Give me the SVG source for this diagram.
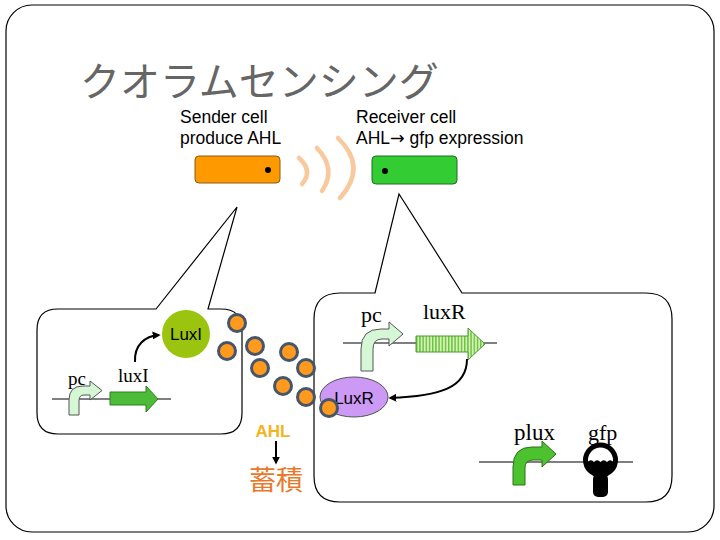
<svg xmlns="http://www.w3.org/2000/svg" width="720" height="540" viewBox="0 0 720 540">
<defs>
<style>
.sans{font-family:"Liberation Sans",Arial,sans-serif;fill:#000}
.serif{font-family:"Liberation Serif","Times New Roman",serif;fill:#000}
.callout{fill:#fff;stroke:#000;stroke-width:1.2}
.gline{stroke:#000;stroke-width:1.2}
.ahl{fill:#FF9A1E;stroke:#46566A;stroke-width:3}
.wave{fill:none;stroke:#F8C99C;stroke-width:4.5;stroke-linecap:round}
.conn{fill:none;stroke:#000;stroke-width:2}
.pale{fill:#D6F7D6;stroke:#555;stroke-width:1}
</style>
<marker id="ah" viewBox="0 0 10 10" refX="8" refY="5" markerWidth="4" markerHeight="4" orient="auto">
<path d="M0,0 L10,5 L0,10 Z" fill="#000"/>
</marker>
<pattern id="stripes" width="3.2" height="10" patternUnits="userSpaceOnUse">
<rect width="3.2" height="10" fill="#D2F2B0"/>
<rect width="1.4" height="10" fill="#6CBF45"/>
</pattern>
</defs>
<rect width="720" height="540" fill="#fff"/>
<rect id="frame" x="6" y="5" width="708" height="527" rx="26" ry="26" fill="#fff" stroke="#000" stroke-width="1.2"/>
<text id="title" x="80" y="96" font-family="'Noto Sans CJK JP','Noto Sans CJK SC',sans-serif" font-size="40" fill="#666">クオラムセンシング</text>

<g id="sender">
<text class="sans" x="180" y="123" font-size="17.5">Sender cell</text>
<text class="sans" x="180" y="144" font-size="17.5">produce AHL</text>
<rect x="195" y="156" width="85" height="27" rx="4" fill="#FF9900" stroke="#8A5A10" stroke-width="1"/>
<circle cx="268" cy="170" r="3" fill="#000"/>
</g>
<g id="receiver">
<text class="sans" x="356" y="123" font-size="17.5">Receiver cell</text>
<text class="sans" x="356" y="144" font-size="17.5">AHL<tspan font-family="'DejaVu Sans',sans-serif">→</tspan> gfp expression</text>
<rect x="372" y="156" width="85" height="28" rx="4" fill="#33CC33" stroke="#1F6E1F" stroke-width="1"/>
<circle cx="385" cy="171" r="3" fill="#000"/>
</g>
<g id="signal">
<path class="wave" d="M299,158 Q313.5,171 302,184"/>
<path class="wave" d="M317,148 Q337,169 322,191"/>
<path class="wave" d="M338,138 Q368,167 340,198"/>
</g>

<g id="sender-detail">
<path class="callout" d="M156,309 L237,207 L208,309 L221,309 Q242,309 242,330 L242,413 Q242,434 221,434 L58,434 Q37,434 37,413 L37,330 Q37,309 58,309 Z"/>
<line class="gline" x1="52" y1="399" x2="171" y2="399"/>
<path class="pale" d="M69,415 L69,400 Q69,386 83,386 L90,386 L90,381 L102,390.5 L90,400 L90,395 L84,395 Q79,395 79,401 L79,415 Z"/>
<text class="serif" x="68" y="385" font-size="19">pc</text>
<path d="M110,392 L146,392 L146,386 L158,399 L146,412 L146,405 L110,405 Z" fill="#4CBB38" stroke="#2E7A22" stroke-width="1"/>
<text class="serif" x="118" y="382" font-size="19">luxI</text>
</g>
<g id="LuxI">
<circle cx="186" cy="334" r="24" fill="#9AC40E"/>
<text class="sans" x="186" y="340" font-size="17" text-anchor="middle">LuxI</text>
</g>

<g id="receiver-detail">
<path class="callout" d="M375,293 L399,194 L462,293 L646,293 Q672,293 672,319 L672,476 Q672,502 646,502 L340,502 Q314,502 314,476 L314,319 Q314,293 340,293 Z"/>
<line class="gline" x1="343" y1="343" x2="497" y2="343"/>
<path class="pale" d="M361,371 L361,349 Q361,329 381,329 L389,329 L389,322 L403,334 L389,346 L389,339 L382,339 Q373,339 373,349 L373,371 Z"/>
<text class="serif" x="361" y="322" font-size="22">pc</text>
<path d="M416,336 L468,336 L468,328 L485,344 L468,360 L468,352 L416,352 Z" fill="url(#stripes)" stroke="#4F9A30" stroke-width="1"/>
<text class="serif" x="423" y="319" font-size="22">luxR</text>
<line class="gline" x1="479" y1="462" x2="633" y2="462"/>
<path d="M513,485 L513,467 Q513,447 532,447 L542,447 L542,441 L556,454 L542,467 L542,460 L533,460 Q525,460 525,468 L525,485 Z" fill="#4CC22E" stroke="#2E6E1E" stroke-width="1"/>
<text class="serif" x="514" y="440" font-size="23">plux</text>
<text class="serif" x="588" y="440" font-size="22">gfp</text>
<g id="bulb">
<circle cx="600.5" cy="460" r="15" fill="#fff" stroke="#000" stroke-width="5"/>
<path d="M587.5,462 Q591,458.5 594,462 Q597,458.5 600.5,462 Q604,458.5 607,462 Q610,458.5 613.5,462 Q612,472 606,478 L595,478 Q589,472 587.5,462 Z" fill="#000"/>
<rect x="593" y="474" width="15" height="23" rx="5" fill="#000"/>
</g>
</g>
<g id="LuxR">
<ellipse cx="354" cy="397" rx="34" ry="20" fill="#CC99F5" stroke="#555" stroke-width="1"/>
<text class="sans" x="354" y="404" font-size="17" text-anchor="middle">LuxR</text>
</g>

<g id="AHL-molecules">
<circle class="ahl" cx="237" cy="323" r="8.5"/>
<circle class="ahl" cx="227" cy="351" r="8.5"/>
<circle class="ahl" cx="255" cy="346" r="8.5"/>
<circle class="ahl" cx="260" cy="368" r="8.5"/>
<circle class="ahl" cx="289" cy="352" r="8.5"/>
<circle class="ahl" cx="306" cy="368" r="8.5"/>
<circle class="ahl" cx="283" cy="386" r="8.5"/>
<circle class="ahl" cx="306" cy="397" r="8.5"/>
<circle class="ahl" cx="329" cy="408" r="8.5"/>
</g>
<g id="AHL-label">
<text x="273" y="437" font-family="'Liberation Sans',Arial,sans-serif" font-weight="bold" font-size="17" fill="#F2B520" text-anchor="middle">AHL</text>
<text x="276" y="490" font-family="'Noto Sans CJK JP','Noto Sans CJK SC',sans-serif" font-size="27" fill="#E8792A" text-anchor="middle">蓄積</text>
</g>

<g id="connectors">
<path class="conn" d="M135,362 C134,345 145,336 159,335" marker-end="url(#ah)"/>
<path class="conn" d="M467,359 C467,388 440,396 390,398" marker-end="url(#ah)"/>
<path class="conn" d="M276,441 L276,463" stroke-width="1.5" marker-end="url(#ah)"/>
</g>
</svg>
